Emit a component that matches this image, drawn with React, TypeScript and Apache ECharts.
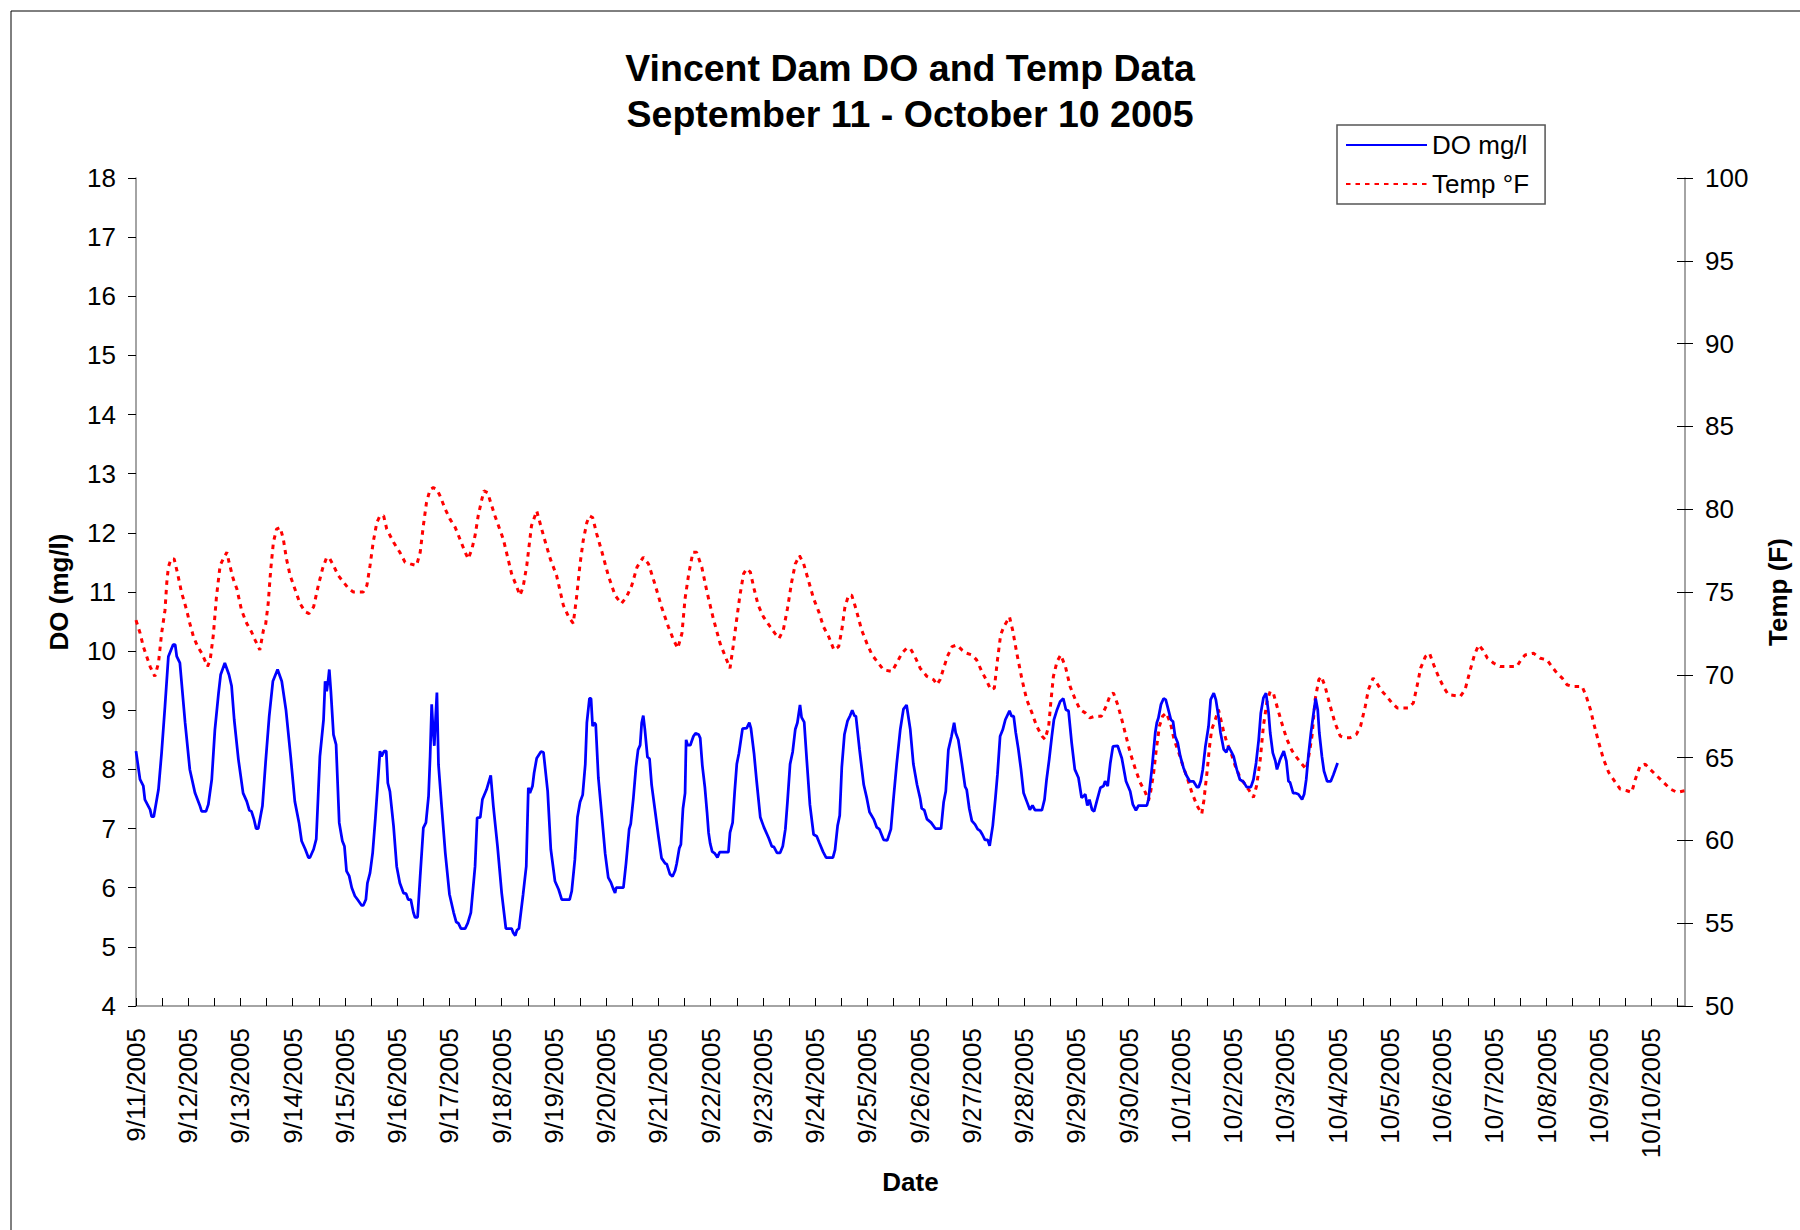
import React, { useEffect, useRef } from "react";
import * as echarts from "echarts";

// X positions are days after 9/11/2005 00:00
const DATE_LABELS = [
  "9/11/2005", "9/12/2005", "9/13/2005", "9/14/2005", "9/15/2005", "9/16/2005",
  "9/17/2005", "9/18/2005", "9/19/2005", "9/20/2005", "9/21/2005", "9/22/2005",
  "9/23/2005", "9/24/2005", "9/25/2005", "9/26/2005", "9/27/2005", "9/28/2005",
  "9/29/2005", "9/30/2005", "10/1/2005", "10/2/2005", "10/3/2005", "10/4/2005",
  "10/5/2005", "10/6/2005", "10/7/2005", "10/8/2005", "10/9/2005", "10/10/2005",
];

const X_MAX_DAYS = 29.65;

const DO_POINTS: [number, number][] = [
  [0, 8.31], [0.077, 7.83], [0.14, 7.72], [0.17, 7.49], [0.27, 7.32], [0.3, 7.2], [0.34, 7.2], [0.43, 7.66],
  [0.49, 8.28], [0.555, 9.07], [0.62, 9.91], [0.71, 10.11], [0.75, 10.11], [0.78, 9.91], [0.84, 9.8], [0.94, 8.79],
  [1.03, 8.0], [1.13, 7.6], [1.225, 7.38], [1.257, 7.29], [1.34, 7.29], [1.385, 7.41], [1.45, 7.83], [1.51, 8.67],
  [1.58, 9.29], [1.62, 9.6], [1.7, 9.8], [1.78, 9.6], [1.83, 9.41], [1.88, 8.84], [1.96, 8.17], [2.05, 7.6],
  [2.12, 7.46], [2.17, 7.31], [2.21, 7.29], [2.26, 7.15], [2.3, 7.0], [2.34, 7.0], [2.42, 7.38], [2.48, 8.11],
  [2.55, 8.9], [2.62, 9.49], [2.71, 9.69], [2.79, 9.49], [2.87, 9.01], [2.96, 8.22], [3.04, 7.46], [3.12, 7.1],
  [3.17, 6.79], [3.24, 6.65], [3.3, 6.51], [3.33, 6.51], [3.4, 6.65], [3.45, 6.82], [3.52, 8.22], [3.59, 8.84],
  [3.62, 9.49], [3.65, 9.32], [3.68, 9.52], [3.7, 9.69], [3.73, 9.32], [3.78, 8.59], [3.83, 8.42], [3.89, 7.1],
  [3.95, 6.79], [3.99, 6.7], [4.03, 6.28], [4.08, 6.2], [4.13, 6.0], [4.19, 5.86], [4.24, 5.8], [4.32, 5.7],
  [4.35, 5.7], [4.4, 5.8], [4.43, 6.08], [4.48, 6.25], [4.53, 6.59], [4.58, 7.15], [4.62, 7.66], [4.67, 8.31],
  [4.7, 8.22], [4.75, 8.31], [4.79, 8.31], [4.82, 7.77], [4.86, 7.63], [4.93, 7.04], [4.99, 6.36], [5.05, 6.08],
  [5.12, 5.91], [5.17, 5.9], [5.21, 5.8], [5.26, 5.8], [5.31, 5.58], [5.34, 5.5], [5.39, 5.5], [5.44, 6.2],
  [5.5, 7.01], [5.55, 7.1], [5.6, 7.55], [5.63, 8.22], [5.66, 9.1], [5.69, 8.62], [5.71, 8.4], [5.735, 8.87],
  [5.76, 9.3], [5.79, 8.08], [5.85, 7.38], [5.92, 6.59], [6.0, 5.89], [6.08, 5.58], [6.13, 5.42], [6.17, 5.4],
  [6.22, 5.31], [6.3, 5.31], [6.35, 5.4], [6.41, 5.58], [6.49, 6.36], [6.53, 7.18], [6.59, 7.19], [6.63, 7.49],
  [6.71, 7.66], [6.79, 7.9], [6.84, 7.38], [6.92, 6.7], [7.0, 5.91], [7.08, 5.31], [7.19, 5.31], [7.22, 5.24],
  [7.26, 5.19], [7.29, 5.28], [7.33, 5.31], [7.41, 5.89], [7.47, 6.36], [7.51, 7.69], [7.54, 7.6], [7.59, 7.72],
  [7.62, 7.94], [7.67, 8.19], [7.75, 8.3], [7.8, 8.29], [7.88, 7.63], [7.94, 6.65], [8.02, 6.11], [8.09, 5.97],
  [8.15, 5.8], [8.3, 5.8], [8.34, 5.94], [8.4, 6.47], [8.45, 7.19], [8.5, 7.45], [8.55, 7.57], [8.6, 8.09],
  [8.63, 8.79], [8.68, 9.2], [8.71, 9.2], [8.74, 8.73], [8.77, 8.79], [8.8, 8.76], [8.85, 7.86], [8.91, 7.28],
  [8.98, 6.58], [9.04, 6.17], [9.09, 6.09], [9.14, 5.97], [9.17, 5.91], [9.19, 6.0], [9.33, 6.0], [9.38, 6.41],
  [9.44, 6.99], [9.47, 7.08], [9.52, 7.51], [9.57, 8.04], [9.61, 8.33], [9.65, 8.41], [9.68, 8.79], [9.71, 8.91],
  [9.74, 8.68], [9.79, 8.21], [9.83, 8.18], [9.87, 7.74], [9.93, 7.34], [10.0, 6.87], [10.06, 6.5], [10.13, 6.41],
  [10.16, 6.4], [10.22, 6.23], [10.27, 6.19], [10.32, 6.29], [10.35, 6.41], [10.4, 6.67], [10.43, 6.73], [10.47, 7.34],
  [10.51, 7.6], [10.53, 8.5], [10.56, 8.41], [10.61, 8.41], [10.67, 8.56], [10.71, 8.61], [10.77, 8.59], [10.8, 8.53],
  [10.84, 8.07], [10.89, 7.69], [10.93, 7.28], [10.96, 6.93], [10.99, 6.75], [11.03, 6.61], [11.08, 6.58], [11.13, 6.51],
  [11.17, 6.6], [11.34, 6.6], [11.37, 6.93], [11.42, 7.1], [11.46, 7.63], [11.5, 8.09], [11.54, 8.27], [11.61, 8.69],
  [11.69, 8.7], [11.74, 8.79], [11.77, 8.7], [11.83, 8.27], [11.88, 7.8], [11.95, 7.19], [12.02, 7.02], [12.11, 6.84],
  [12.17, 6.7], [12.21, 6.69], [12.27, 6.59], [12.33, 6.59], [12.38, 6.7], [12.43, 6.99], [12.47, 7.45], [12.52, 8.09],
  [12.57, 8.3], [12.62, 8.68], [12.66, 8.79], [12.71, 9.09], [12.74, 8.88], [12.79, 8.8], [12.84, 8.15], [12.9, 7.4],
  [12.97, 6.9], [13.03, 6.87], [13.08, 6.76], [13.15, 6.61], [13.21, 6.51], [13.34, 6.51], [13.38, 6.64], [13.43, 7.05],
  [13.47, 7.22], [13.51, 8.04], [13.56, 8.59], [13.62, 8.82], [13.67, 8.91], [13.71, 9.0], [13.75, 8.91], [13.78, 8.9],
  [13.85, 8.33], [13.93, 7.74], [13.99, 7.51], [14.04, 7.28], [14.12, 7.16], [14.18, 7.02], [14.23, 6.99], [14.31, 6.81],
  [14.38, 6.8], [14.45, 6.99], [14.5, 7.51], [14.56, 8.09], [14.63, 8.68], [14.69, 9.02], [14.75, 9.09], [14.82, 8.68],
  [14.88, 8.09], [14.95, 7.74], [15.01, 7.51], [15.04, 7.34], [15.09, 7.31], [15.14, 7.16], [15.22, 7.1], [15.3, 7.0],
  [15.41, 7.0], [15.46, 7.45], [15.5, 7.63], [15.55, 8.33], [15.61, 8.56], [15.66, 8.79], [15.69, 8.62], [15.74, 8.5],
  [15.81, 8.09], [15.87, 7.71], [15.9, 7.66], [15.95, 7.34], [16.0, 7.13], [16.06, 7.07], [16.11, 6.99], [16.16, 6.96],
  [16.2, 6.9], [16.25, 6.81], [16.3, 6.81], [16.34, 6.71], [16.4, 7.05], [16.45, 7.51], [16.49, 7.92], [16.54, 8.56],
  [16.59, 8.67], [16.64, 8.84], [16.72, 8.99], [16.76, 8.9], [16.8, 8.9], [16.84, 8.62], [16.89, 8.34], [16.94, 8.0],
  [16.99, 7.6], [17.05, 7.46], [17.11, 7.32], [17.16, 7.39], [17.21, 7.31], [17.34, 7.31], [17.39, 7.49], [17.43, 7.83],
  [17.48, 8.17], [17.53, 8.56], [17.57, 8.84], [17.63, 9.01], [17.69, 9.15], [17.75, 9.2], [17.8, 9.01], [17.85, 8.99],
  [17.91, 8.45], [17.97, 8.0], [18.04, 7.86], [18.1, 7.52], [18.14, 7.55], [18.17, 7.58], [18.21, 7.39], [18.25, 7.49],
  [18.3, 7.32], [18.34, 7.29], [18.39, 7.46], [18.46, 7.69], [18.52, 7.72], [18.55, 7.8], [18.6, 7.72], [18.65, 8.11],
  [18.7, 8.39], [18.79, 8.4], [18.87, 8.19], [18.95, 7.8], [19.03, 7.63], [19.08, 7.41], [19.14, 7.31], [19.19, 7.39],
  [19.35, 7.39], [19.38, 7.49], [19.45, 8.05], [19.51, 8.62], [19.54, 8.79], [19.57, 8.87], [19.62, 9.1], [19.67, 9.2],
  [19.71, 9.18], [19.76, 9.01], [19.81, 8.84], [19.85, 8.81], [19.89, 8.56], [19.94, 8.45], [19.99, 8.22], [20.05, 8.03],
  [20.1, 7.91], [20.17, 7.8], [20.24, 7.8], [20.31, 7.7], [20.34, 7.7], [20.38, 7.8], [20.42, 8.0], [20.47, 8.39],
  [20.53, 8.73], [20.57, 9.18], [20.63, 9.29], [20.67, 9.18], [20.72, 8.9], [20.76, 8.62], [20.82, 8.34], [20.87, 8.29],
  [20.91, 8.39], [20.96, 8.31], [21.01, 8.22], [21.07, 8.0], [21.13, 7.83], [21.2, 7.79], [21.26, 7.7], [21.34, 7.7],
  [21.39, 7.83], [21.44, 8.11], [21.49, 8.5], [21.53, 8.95], [21.58, 9.21], [21.63, 9.29], [21.68, 8.95], [21.71, 8.62],
  [21.76, 8.28], [21.81, 8.14], [21.84, 8.0], [21.9, 8.17], [21.97, 8.31], [22.02, 8.14], [22.06, 7.8], [22.09, 7.78],
  [22.15, 7.6], [22.19, 7.6], [22.25, 7.58], [22.32, 7.49], [22.36, 7.58], [22.4, 7.83], [22.44, 8.22], [22.49, 8.62],
  [22.54, 8.95], [22.58, 9.2], [22.62, 9.01], [22.65, 8.62], [22.7, 8.22], [22.74, 7.97], [22.8, 7.8], [22.87, 7.8],
  [22.92, 7.91], [23.0, 8.11],
];

const TEMP_POINTS: [number, number][] = [
  [0, 73.3], [0.08, 72.5], [0.14, 71.7], [0.27, 70.5], [0.36, 69.9], [0.43, 70.7], [0.49, 72.5], [0.555, 73.9],
  [0.59, 75.6], [0.62, 76.5], [0.67, 77.0], [0.73, 77.0], [0.79, 76.2], [0.87, 75.0], [0.97, 73.9], [1.03, 73.1],
  [1.1, 72.3], [1.18, 71.7], [1.26, 71.3], [1.37, 70.5], [1.42, 70.9], [1.48, 72.4], [1.54, 74.7], [1.61, 76.6],
  [1.67, 77.0], [1.74, 77.4], [1.78, 76.8], [1.86, 75.8], [1.93, 75.2], [2.02, 73.9], [2.12, 73.1], [2.21, 72.6],
  [2.28, 72.1], [2.37, 71.5], [2.44, 72.7], [2.48, 73.0], [2.53, 74.3], [2.58, 76.4], [2.63, 78.0], [2.69, 78.8],
  [2.76, 78.9], [2.82, 78.2], [2.88, 77.0], [2.95, 76.0], [3.04, 75.2], [3.14, 74.3], [3.24, 73.8], [3.31, 73.7],
  [3.4, 74.1], [3.49, 75.4], [3.57, 76.4], [3.65, 77.1], [3.71, 77.0], [3.78, 76.6], [3.87, 76.0], [3.97, 75.6],
  [4.07, 75.2], [4.16, 75.0], [4.26, 75.0], [4.35, 75.0], [4.42, 75.4], [4.48, 76.6], [4.54, 78.0], [4.61, 79.2],
  [4.67, 79.6], [4.74, 79.6], [4.8, 78.8], [4.93, 78.0], [5.05, 77.4], [5.15, 76.8], [5.25, 76.7], [5.37, 76.6],
  [5.44, 77.4], [5.5, 79.0], [5.56, 80.4], [5.63, 81.2], [5.69, 81.3], [5.76, 81.2], [5.82, 80.8], [5.92, 80.0],
  [6.01, 79.4], [6.11, 78.9], [6.2, 78.2], [6.3, 77.4], [6.36, 77.0], [6.43, 77.6], [6.49, 78.4], [6.55, 79.6],
  [6.62, 80.6], [6.66, 81.1], [6.73, 81.0], [6.79, 80.4], [6.87, 79.6], [7.03, 78.2], [7.19, 76.1], [7.35, 74.8],
  [7.41, 75.3], [7.48, 76.6], [7.57, 79.0], [7.67, 79.9], [7.8, 78.4], [7.93, 77.0], [8.05, 76.0], [8.18, 74.2],
  [8.28, 73.5], [8.37, 73.1], [8.43, 74.6], [8.5, 76.7], [8.56, 78.1], [8.63, 79.2], [8.68, 79.6], [8.74, 79.5],
  [8.82, 78.5], [8.92, 77.4], [9.04, 76.0], [9.17, 74.8], [9.29, 74.3], [9.39, 74.7], [9.49, 75.4], [9.59, 76.5],
  [9.71, 77.1], [9.81, 76.7], [9.94, 75.4], [10.06, 74.1], [10.19, 72.9], [10.29, 72.1], [10.37, 71.6], [10.45, 72.5],
  [10.51, 74.6], [10.58, 76.1], [10.66, 77.4], [10.73, 77.4], [10.83, 76.5], [10.93, 75.0], [11.05, 73.4], [11.18, 71.9],
  [11.28, 71.1], [11.37, 70.4], [11.43, 71.7], [11.5, 73.4], [11.56, 74.8], [11.63, 76.1], [11.69, 76.4], [11.76, 76.2],
  [11.83, 75.2], [11.91, 74.2], [12.01, 73.5], [12.14, 72.9], [12.23, 72.5], [12.31, 72.2], [12.39, 72.7], [12.47, 74.0],
  [12.55, 75.6], [12.62, 76.7], [12.7, 77.2], [12.78, 76.7], [12.88, 75.6], [12.97, 74.6], [13.07, 73.8], [13.16, 72.9],
  [13.26, 72.3], [13.36, 71.5], [13.45, 71.7], [13.51, 72.7], [13.57, 74.1], [13.64, 74.8], [13.7, 74.8], [13.78, 74.0],
  [13.89, 72.7], [13.99, 71.9], [14.09, 71.2], [14.21, 70.7], [14.31, 70.3], [14.47, 70.2], [14.56, 70.7], [14.66, 71.3],
  [14.75, 71.6], [14.82, 71.6], [14.91, 71.1], [15.01, 70.4], [15.14, 69.9], [15.27, 69.7], [15.33, 69.4], [15.39, 69.7],
  [15.46, 70.4], [15.53, 71.1], [15.62, 71.7], [15.71, 71.8], [15.81, 71.5], [15.9, 71.3], [16.0, 71.2], [16.09, 70.9],
  [16.19, 70.2], [16.29, 69.6], [16.36, 69.1], [16.43, 69.2], [16.49, 70.9], [16.55, 72.4], [16.61, 72.9], [16.72, 73.5],
  [16.78, 72.7], [16.86, 71.3], [16.96, 69.7], [17.05, 68.5], [17.15, 67.7], [17.24, 66.9], [17.34, 66.3], [17.4, 66.1],
  [17.47, 66.9], [17.51, 68.3], [17.56, 69.9], [17.63, 70.8], [17.7, 71.2], [17.79, 70.5], [17.88, 69.3], [17.98, 68.5],
  [18.07, 67.9], [18.17, 67.7], [18.26, 67.4], [18.36, 67.5], [18.48, 67.5], [18.57, 68.1], [18.65, 68.8], [18.71, 68.9],
  [18.79, 68.2], [18.87, 67.3], [18.95, 66.3], [19.03, 65.3], [19.13, 64.3], [19.22, 63.5], [19.32, 62.9], [19.38, 62.4],
  [19.42, 62.9], [19.48, 64.1], [19.53, 65.5], [19.59, 66.9], [19.65, 67.5], [19.72, 67.7], [19.8, 67.1], [19.87, 66.1],
  [19.96, 65.3], [20.04, 64.5], [20.13, 63.7], [20.21, 62.9], [20.31, 62.1], [20.4, 61.6], [20.44, 62.4], [20.5, 64.1],
  [20.55, 65.7], [20.59, 66.7], [20.66, 67.3], [20.72, 67.9], [20.81, 66.7], [20.88, 65.9], [20.96, 65.3], [21.04, 64.5],
  [21.12, 63.9], [21.2, 63.5], [21.29, 63.1], [21.39, 62.6], [21.45, 63.3], [21.52, 64.9], [21.58, 66.9], [21.65, 68.4],
  [21.71, 69.0], [21.77, 68.9], [21.84, 68.1], [21.93, 67.1], [22.03, 66.1], [22.13, 65.4], [22.22, 65.0], [22.32, 64.6],
  [22.4, 64.3], [22.46, 65.3], [22.51, 66.3], [22.57, 68.5], [22.64, 69.7], [22.69, 69.9], [22.76, 69.3], [22.86, 68.1],
  [22.95, 67.1], [23.05, 66.3], [23.15, 66.2], [23.24, 66.2], [23.36, 66.4], [23.44, 66.9], [23.53, 68.1], [23.59, 69.1],
  [23.68, 69.8], [23.75, 69.5], [23.85, 69.0], [23.94, 68.7], [24.04, 68.3], [24.14, 68.0], [24.36, 68.0], [24.45, 68.3],
  [24.52, 69.3], [24.59, 70.4], [24.68, 71.1], [24.76, 71.3], [24.84, 70.6], [24.93, 69.9], [25.03, 69.25], [25.12, 68.8],
  [25.35, 68.7], [25.44, 69.1], [25.54, 70.3], [25.62, 71.2], [25.7, 71.8], [25.78, 71.5], [25.87, 71.0], [25.99, 70.7],
  [26.11, 70.5], [26.43, 70.5], [26.51, 70.9], [26.59, 71.2], [26.75, 71.3], [26.88, 71.0], [27.01, 70.9], [27.1, 70.5],
  [27.2, 70.1], [27.3, 69.8], [27.39, 69.4], [27.49, 69.3], [27.68, 69.3], [27.76, 68.7], [27.84, 67.9], [27.9, 67.1],
  [28.0, 65.9], [28.09, 64.9], [28.19, 64.1], [28.32, 63.5], [28.41, 63.1], [28.54, 63.0], [28.63, 62.9], [28.7, 63.7],
  [28.79, 64.5], [28.89, 64.6], [28.98, 64.3], [29.11, 63.9], [29.24, 63.5], [29.37, 63.1], [29.5, 62.9], [29.65, 63.0],
];

const FONT = "'Liberation Sans', Arial, Helvetica, sans-serif";

export default function App() {
  const ref = useRef<HTMLDivElement>(null);

  useEffect(() => {
    if (!ref.current) return;
    const chart = echarts.init(ref.current, null, { renderer: "svg" });
    const axisLineColor = "#868686";
    const option: any = {
      animation: false,
      backgroundColor: "#ffffff",
      textStyle: { fontFamily: FONT, color: "#000" },
      title: {
        text: "Vincent Dam DO and Temp Data\nSeptember 11 - October 10 2005",
        left: 910,
        top: 45,
        textAlign: "center",
        padding: 0,
        textStyle: {
          fontFamily: FONT,
          fontSize: 37.5,
          fontWeight: "bold",
          color: "#000",
          lineHeight: 46,
        },
      },
      legend: {
        orient: "vertical",
        left: 1337,
        top: 125,
        padding: [7, 16, 7, 8],
        itemGap: 13,
        itemWidth: 81,
        itemHeight: 14,
        borderColor: "#555",
        borderWidth: 1.5,
        backgroundColor: "#fff",
        itemStyle: { opacity: 0 },
        textStyle: { fontFamily: FONT, fontSize: 26, color: "#000" },
        data: ["DO mg/l", "Temp °F"],
      },
      grid: { left: 136, right: 115, top: 178, bottom: 224, containLabel: false },
      xAxis: {
        type: "value",
        min: 0,
        max: X_MAX_DAYS,
        interval: 0.5,
        name: "Date",
        nameLocation: "middle",
        nameGap: 163,
        nameTextStyle: { fontFamily: FONT, fontSize: 26, fontWeight: "bold", color: "#000" },
        axisLine: { show: true, lineStyle: { color: axisLineColor, width: 1.5 } },
        axisTick: { show: true, inside: true, length: 8, lineStyle: { color: "#000", width: 1 } },
        splitLine: { show: false },
        axisLabel: {
          rotate: 90,
          margin: 22,
          fontSize: 26,
          color: "#000",
          fontFamily: FONT,
          showMaxLabel: false,
          formatter: (v: number) => {
            const i = Math.round(v);
            if (Math.abs(v - i) < 1e-6 && i >= 0 && i < DATE_LABELS.length) return DATE_LABELS[i];
            return "";
          },
        },
      },
      yAxis: [
        {
          type: "value",
          position: "left",
          min: 4,
          max: 18,
          interval: 1,
          name: "DO (mg/l)",
          nameLocation: "middle",
          nameRotate: 90,
          nameGap: 64,
          nameTextStyle: { fontFamily: FONT, fontSize: 26, fontWeight: "bold", color: "#000" },
          axisLine: { show: true, lineStyle: { color: axisLineColor, width: 1.5 } },
          axisTick: { show: true, length: 8, lineStyle: { color: "#000", width: 1 } },
          splitLine: { show: false },
          axisLabel: { fontSize: 26, color: "#000", margin: 20, fontFamily: FONT },
        },
        {
          type: "value",
          position: "right",
          min: 50,
          max: 100,
          interval: 5,
          name: "Temp (F)",
          nameLocation: "middle",
          nameRotate: 90,
          nameGap: 80,
          nameTextStyle: { fontFamily: FONT, fontSize: 26, fontWeight: "bold", color: "#000" },
          axisLine: { show: true, lineStyle: { color: axisLineColor, width: 1.5 } },
          axisTick: { show: true, length: 8, lineStyle: { color: "#000", width: 1 } },
          splitLine: { show: false },
          axisLabel: { fontSize: 26, color: "#000", margin: 20, fontFamily: FONT },
        },
        {
          type: "value",
          position: "right",
          min: 50,
          max: 100,
          interval: 5,
          axisLine: { show: false },
          axisTick: { show: true, inside: true, length: 8, lineStyle: { color: "#000", width: 1 } },
          splitLine: { show: false },
          axisLabel: { show: false },
        },
      ],
      graphic: [
        {
          type: "rect",
          silent: true,
          shape: { x: 11, y: 11, width: 1800, height: 1230 },
          style: { fill: "none", stroke: "#000", lineWidth: 1 },
        },
      ],
      series: [
        {
          name: "DO mg/l",
          type: "line",
          yAxisIndex: 0,
          data: DO_POINTS,
          showSymbol: false,
          symbol: "none",
          lineStyle: { color: "#0000FF", width: 2.75 },
          itemStyle: { color: "#0000FF" },
          z: 3,
        },
        {
          name: "Temp °F",
          type: "line",
          yAxisIndex: 1,
          data: TEMP_POINTS,
          showSymbol: false,
          symbol: "none",
          lineStyle: { color: "#FF0000", width: 3, type: [4.5, 5] },
          itemStyle: { color: "#FF0000" },
          z: 2,
        },
      ],
    };
    chart.setOption(option);
    return () => chart.dispose();
  }, []);

  return (
    <div
      ref={ref}
      style={{ position: "absolute", left: 0, top: 0, width: 1800, height: 1230 }}
    />
  );
}
